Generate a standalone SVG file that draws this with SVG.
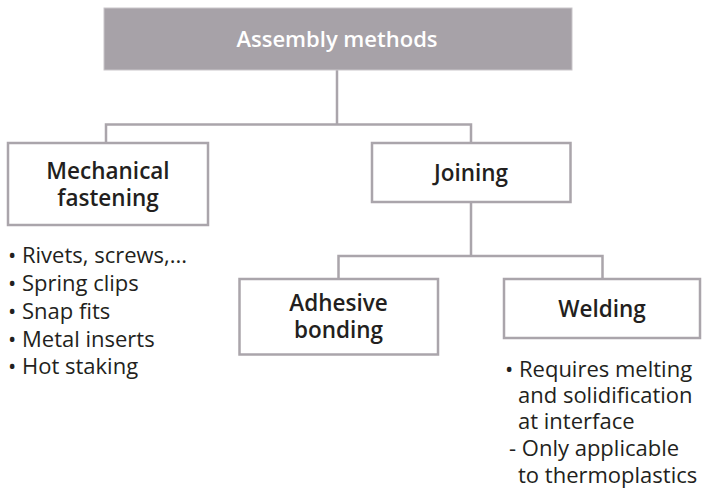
<svg xmlns="http://www.w3.org/2000/svg" width="705" height="492" viewBox="0 0 705 492">
<style>
.box{fill:#fff;stroke:#aaa5ab;stroke-width:2.5}
.conn{fill:none;stroke:#aaa5ab;stroke-width:2.5}
.lbl{font-family:"Open Sans","Noto Sans",sans-serif;font-size:22.5px;font-weight:600;fill:#231f20;text-anchor:middle}
.txt{font-family:"Open Sans","Noto Sans",sans-serif;font-size:22px;font-weight:400;fill:#231f20}
</style>
<rect width="705" height="492" fill="#fff"/>
<g id="connectors">
<path class="conn" d="M337,70 V124.5 M106,143 V124.5 H471 V143"/>
<path class="conn" d="M471,202 V256 M338.5,279 V256 H602.5 V279"/>
</g>
<g id="assembly-methods">
<rect x="104" y="8" width="468" height="62" fill="#a7a2a8" stroke="#c9c6ca" stroke-width="1"/>
<text class="lbl" x="337" y="47" style="fill:#fff;font-size:22px">Assembly methods</text>
</g>
<g id="mechanical-fastening">
<rect class="box" x="8" y="143" width="200" height="82"/>
<text class="lbl"><tspan x="108" y="179">Mechanical</tspan><tspan x="108" y="206">fastening</tspan></text>
</g>
<g id="joining">
<rect class="box" x="372" y="143" width="198.5" height="59"/>
<text class="lbl" x="471" y="181">Joining</text>
</g>
<g id="adhesive-bonding">
<rect class="box" x="239.5" y="279" width="198.5" height="75.5"/>
<text class="lbl"><tspan x="338.5" y="311">Adhesive</tspan><tspan x="338.5" y="338">bonding</tspan></text>
</g>
<g id="welding">
<rect class="box" x="504" y="279" width="196" height="59"/>
<text class="lbl" x="602" y="317">Welding</text>
</g>
<g id="mechanical-list">
<text class="txt"><tspan x="8" y="263">• Rivets, screws,...</tspan><tspan x="8" y="291">• Spring clips</tspan><tspan x="8" y="319">• Snap fits</tspan><tspan x="8" y="347">• Metal inserts</tspan><tspan x="8" y="374">• Hot staking</tspan></text>
</g>
<g id="welding-list">
<text class="txt"><tspan x="505" y="377">• Requires melting</tspan><tspan x="518" y="403">and solidification</tspan><tspan x="518" y="429">at interface</tspan><tspan x="509" y="456">- Only applicable</tspan><tspan x="518" y="483">to thermoplastics</tspan></text>
</g>
</svg>
